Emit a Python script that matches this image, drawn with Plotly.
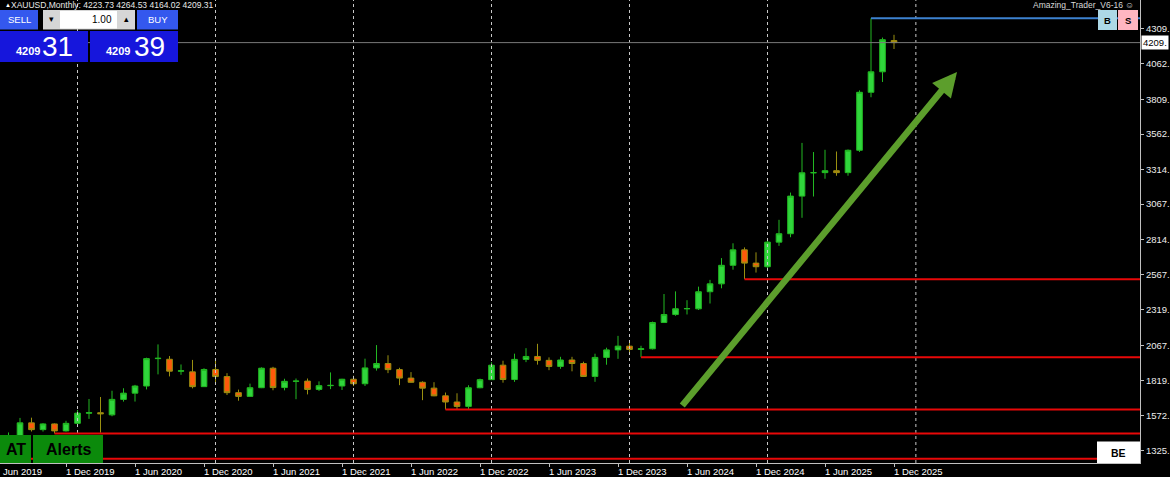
import pandas as pd
import plotly.graph_objects as go

# ---------------- data ----------------
months = [d.strftime("%b %Y") for d in pd.date_range("2019-05-01", "2025-12-01", freq="MS")]

opens = [1283.6, 1305.6, 1409.4, 1413.5, 1520.4, 1472.5, 1512.9, 1463.7, 1517.0, 1589.0,
         1592.0, 1577.0, 1686.4, 1730.3, 1780.9, 1974.7, 1970.0, 1886.0, 1881.0, 1776.5,
         1898.0, 1847.6, 1734.0, 1707.7, 1769.0, 1906.9, 1770.1, 1814.1, 1815.6, 1757.0,
         1783.4, 1781.0, 1829.0, 1797.0, 1909.0, 1940.0, 1897.0, 1837.0, 1807.3, 1766.0,
         1711.5, 1668.0, 1637.0, 1768.5, 1826.0, 1928.3, 1826.9, 1969.3, 1990.0, 1962.5,
         1919.3, 1965.0, 1940.2, 1848.7, 1983.2, 2036.4, 2062.9, 2039.6, 2044.3, 2229.9,
         2286.3, 2327.3, 2326.7, 2447.6, 2503.4, 2634.6, 2743.7, 2650.0, 2624.5, 2798.4,
         2857.8, 3123.8, 3288.7, 3289.8, 3303.6, 3289.9, 3448.0, 3858.0, 4002.8, 4223.73]
highs = [1306.2, 1439.2, 1452.6, 1555.4, 1557.1, 1518.6, 1516.4, 1535.0, 1611.4, 1689.3,
         1703.4, 1747.7, 1765.2, 1789.0, 1981.3, 2075.1, 1992.8, 1933.3, 1965.6, 1906.6,
         1959.4, 1871.6, 1755.6, 1798.0, 1913.0, 1916.6, 1832.4, 1834.0, 1834.0, 1813.8,
         1877.2, 1831.9, 1853.8, 1974.4, 2070.4, 1998.4, 1910.0, 1879.4, 1814.2, 1808.0,
         1735.0, 1729.6, 1786.5, 1833.2, 1949.2, 1959.7, 2009.7, 2048.7, 2079.5, 1983.5,
         1987.5, 1987.4, 1953.0, 2009.4, 2052.0, 2135.4, 2088.4, 2065.5, 2236.6, 2431.5,
         2450.1, 2387.8, 2483.7, 2531.6, 2685.6, 2790.2, 2761.2, 2726.2, 2817.2, 2956.2,
         3148.9, 3500.1, 3435.5, 3451.4, 3439.2, 3453.6, 3871.6, 4381.5, 4245.0, 4264.53]
lows = [1266.4, 1310.5, 1382.0, 1400.4, 1459.3, 1458.9, 1445.6, 1458.6, 1517.0, 1548.5,
        1451.0, 1567.0, 1670.7, 1671.0, 1757.0, 1863.3, 1848.9, 1860.3, 1764.4, 1775.8,
        1802.6, 1717.2, 1676.9, 1705.2, 1766.1, 1750.8, 1750.4, 1687.8, 1721.7, 1746.0,
        1758.9, 1753.0, 1780.4, 1781.0, 1890.0, 1872.0, 1786.9, 1805.0, 1680.9, 1709.0,
        1614.9, 1617.3, 1616.7, 1765.2, 1823.8, 1804.7, 1810.2, 1949.8, 1932.1, 1893.0,
        1902.8, 1884.9, 1846.4, 1810.5, 1931.6, 1973.2, 2001.9, 1984.3, 2039.6, 2228.3,
        2277.4, 2286.9, 2318.6, 2364.3, 2471.8, 2603.5, 2536.7, 2583.3, 2614.6, 2772.0,
        2833.0, 2970.4, 3121.0, 3246.6, 3267.8, 3268.1, 3436.2, 3823.0, 3931.0, 4164.02]
closes = [1305.6, 1409.4, 1413.5, 1520.4, 1472.5, 1512.9, 1463.7, 1517.0, 1589.2, 1592.0,
          1585.0, 1686.4, 1730.3, 1780.9, 1974.7, 1977.0, 1886.0, 1888.5, 1776.5, 1898.0,
          1847.6, 1734.0, 1707.7, 1769.0, 1906.9, 1770.1, 1814.1, 1815.6, 1757.0, 1783.4,
          1785.5, 1829.0, 1797.0, 1909.0, 1940.0, 1897.0, 1837.0, 1807.3, 1766.0, 1711.5,
          1668.0, 1637.0, 1768.5, 1826.0, 1928.3, 1826.9, 1969.3, 1990.0, 1962.5, 1919.3,
          1965.0, 1940.2, 1848.7, 1983.2, 2036.4, 2062.9, 2039.6, 2044.3, 2229.9, 2286.3,
          2327.3, 2328.5, 2447.6, 2503.4, 2634.6, 2743.7, 2650.0, 2624.5, 2798.4, 2857.8,
          3123.8, 3288.7, 3289.8, 3303.6, 3289.9, 3448.0, 3858.0, 4002.8, 4230.0, 4209.31]

price_ticks = [1325, 1572, 1819, 2067, 2319, 2567, 2814, 3067, 3314, 3562, 3809, 4062, 4309]
price_tick_labels = [f"{v}." for v in price_ticks]

support_levels = [1266.4, 1445.6, 1614.9, 1984.3, 2536.7]
support_start = ["May 2019", "Nov 2019", "Sep 2022", "Feb 2024", "Nov 2024"]
resistance_level = 4381.5
resistance_start = "Oct 2025"
current_price = 4209.31

# ---------------- layout constants ----------------
FW, FH = 1170, 477
PW, PH = 1140, 463
X_RANGE = [1.26, 100.39]
Y_RANGE = [1236.6, 4510.6]
FONT = "Liberation Sans, Arial, sans-serif"

xs = list(range(len(months)))
pos = {m: i for i, m in enumerate(months)}

fig = go.Figure()
fig.add_trace(go.Candlestick(
    x=xs, open=opens, high=highs, low=lows, close=closes,
    increasing=dict(line=dict(color="#22b822", width=1), fillcolor="#30d63c"),
    decreasing=dict(line=dict(color="#9a9010", width=1), fillcolor="#ff5a0a"),
    hoverinfo="skip", showlegend=False,
))

label_idx = [i for i, m in enumerate(months) if m.startswith(("Jun", "Dec"))]
label_txt = [f"1 {months[i][:3]} {months[i][4:]}" for i in label_idx]
label_txt[0] = months[label_idx[0]]  # first label is only partly on screen: "Jun 2019"

def xpaper(i):
    return (i - X_RANGE[0]) / (X_RANGE[1] - X_RANGE[0])

def P(x):
    return x / PW

def Q(y):
    return 1 - y / PH

shapes = []
annotations = []

# vertical dashed grid
grid_x = [8, 20, 32, 44, 56, 68, 80.9]
for g in grid_x:
    shapes.append(dict(type="line", xref="x", yref="paper", x0=g, x1=g, y0=0, y1=1,
                       line=dict(color="#c8c8c8", width=1, dash="3px,3px")))

# current price line
shapes.append(dict(type="line", xref="paper", yref="y", x0=0, x1=1, y0=current_price, y1=current_price,
                   line=dict(color="#7a7a7a", width=1)))

# support lines
for lv, st in zip(support_levels, support_start):
    shapes.append(dict(type="line", xref="x", yref="y", x0=pos[st], x1=X_RANGE[1], y0=lv, y1=lv,
                       line=dict(color="#e80808", width=2)))
# resistance line
shapes.append(dict(type="line", xref="x", yref="y", x0=pos[resistance_start], x1=X_RANGE[1],
                   y0=resistance_level, y1=resistance_level, line=dict(color="#3d82d0", width=2)))

def rect(x0, y0, x1, y1, fill, line=None):
    shapes.append(dict(type="rect", xref="paper", yref="paper", x0=P(x0), x1=P(x1), y0=Q(y1), y1=Q(y0),
                       fillcolor=fill, line=dict(width=1 if line else 0, color=line or fill)))

def txt(x, y, s, size, color="#ffffff", bold=False, anchor="center"):
    annotations.append(dict(xref="paper", yref="paper", x=P(x), y=Q(y), text=f"<b>{s}</b>" if bold else s,
                            showarrow=False, xanchor=anchor, yanchor="middle",
                            font=dict(family=FONT, size=size, color=color)))

# trade panel
rect(0, 10, 38, 29.5, "#3458ee")
rect(137, 10, 178, 29.5, "#3458ee")
rect(43, 10, 135, 29.5, "#d6d6d6")
rect(60, 11, 117, 28.5, "#ffffff")
rect(0, 31, 88, 62, "#1616dc")
rect(90, 31, 178, 62, "#1616dc")
txt(19, 19.5, "SELL", 9.5)
txt(157.5, 19.5, "BUY", 9.5)
txt(114, 19.5, "1.00", 10, "#000000", anchor="right")
txt(51.5, 19.5, "▾", 9, "#000000")
txt(126, 19.5, "▴", 9, "#000000")
txt(27.5, 51, "4209", 11, bold=True)
txt(57.5, 46.5, "31", 28)
txt(118, 51, "4209", 11, bold=True)
txt(149, 46.5, "39", 28)

# header texts
txt(3, 4.5, "▲", 6, anchor="left")
txt(9, 5, "XAUUSD,Monthly: 4223.73 4264.53 4164.02 4209.31", 8.5, "#e8e8e8", anchor="left")
txt(1031, 5, "Amazing_Trader_V6-16 ☺", 8.5, "#d8d8d8", anchor="left")

# B / S buttons
rect(1098, 10, 1117, 30, "#add8e6")
rect(1118, 10, 1138, 30, "#ffb6c1")
txt(1107.5, 20, "B", 9.5, "#000000", bold=True)
txt(1128, 20, "S", 9.5, "#000000", bold=True)

# AT / Alerts buttons
rect(0, 435, 31, 463, "#0b8a0b")
rect(33, 435, 103, 463, "#0b8a0b")
txt(15.5, 449.5, "AT", 16, "#000000", bold=True)
txt(68, 449.5, "Alerts", 16, "#000000", bold=True)

# BE box
rect(1097, 441.5, 1140, 463, "#ffffff")
txt(1118, 452.5, "BE", 10.5, "#000000", bold=True)

# x labels
for k, (i, t) in enumerate(zip(label_idx, label_txt)):
    if k == 0:
        annotations.append(dict(xref="paper", yref="paper", x=0, y=0, yshift=-1, xshift=1,
                                text=t, showarrow=False, xanchor="left", yanchor="top",
                                font=dict(family=FONT, size=9.5, color="#ffffff")))
    else:
        annotations.append(dict(xref="paper", yref="paper", x=xpaper(i), y=0, yshift=-1, xshift=-2,
                                text=t, showarrow=False, xanchor="left", yanchor="top",
                                font=dict(family=FONT, size=9.5, color="#ffffff")))

# current price tag
annotations.append(dict(xref="paper", yref="y", x=1, xshift=1, y=current_price, text="4209.",
                        showarrow=False, xanchor="left", yanchor="middle", bgcolor="#ffffff",
                        borderpad=1, font=dict(family=FONT, size=9.5, color="#000000")))

# green trend arrow
arrow_tail = (60.48, 1632.6)
arrow_tip = (84.48, 4001.5)
annotations.append(dict(xref="x", yref="y", axref="x", ayref="y",
                        x=arrow_tip[0], y=arrow_tip[1], ax=arrow_tail[0], ay=arrow_tail[1],
                        text="", showarrow=True, arrowhead=2, arrowsize=0.75, arrowwidth=6.5,
                        arrowcolor="#5c9e2c", standoff=0, startstandoff=0))

fig.update_layout(
    width=FW, height=FH, autosize=False,
    margin=dict(l=0, r=FW - PW, t=0, b=FH - PH),
    paper_bgcolor="#000000", plot_bgcolor="#000000",
    showlegend=False, hovermode=False, boxgap=0.3,
    shapes=shapes, annotations=annotations,
    xaxis=dict(range=X_RANGE, rangeslider=dict(visible=False), showgrid=False, zeroline=False,
               tickvals=label_idx, ticktext=label_txt, showticklabels=False,
               ticks="outside", ticklen=3, tickcolor="#c0c0c0",
               showline=True, linecolor="#c0c0c0", linewidth=1, fixedrange=True),
    yaxis=dict(range=Y_RANGE, side="right", showgrid=False, zeroline=False,
               tickvals=price_ticks, ticktext=price_tick_labels,
               ticks="outside", ticklen=3, tickcolor="#c0c0c0",
               tickfont=dict(family=FONT, size=9.5, color="#ececec"),
               showline=True, linecolor="#c0c0c0", linewidth=1, fixedrange=True),
)

fig.write_html(
    "out.html",
    config={"displayModeBar": False, "staticPlot": True},
    post_script="document.body.style.margin='0px';document.body.style.overflow='hidden';"
                "document.documentElement.style.background='#000';",
)
